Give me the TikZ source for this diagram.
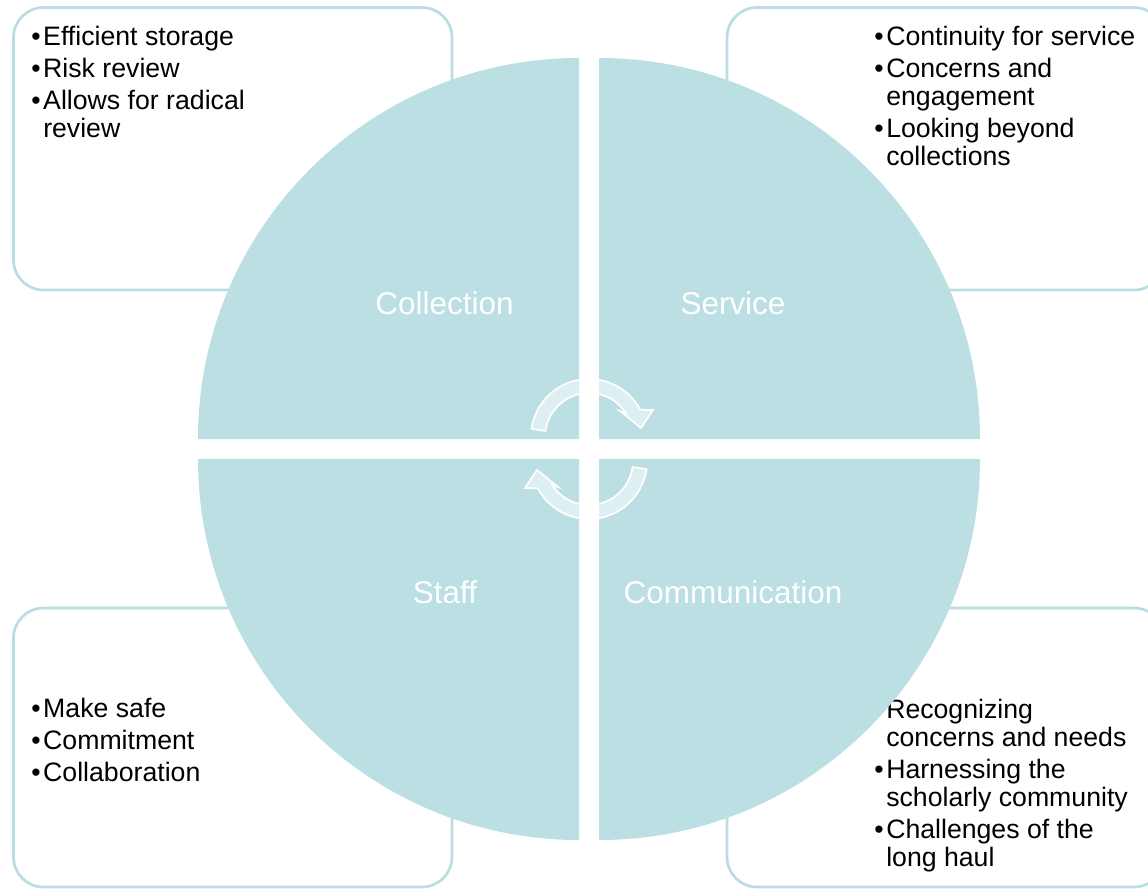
\documentclass[tikz,border=0pt]{standalone}
\usepackage{fontspec}
\setmainfont{Liberation Sans}
\usetikzlibrary{calc}
\definecolor{teal1}{RGB}{187,223,227}
\definecolor{boxline}{RGB}{185,221,226}
\newcommand\itembul{\makebox[9pt][l]{•}}
\begin{document}
\begin{tikzpicture}[x=0.75pt,y=-0.75pt,
  sidebox/.style={draw=boxline, line width=2pt, fill=white, rounded corners=22.5pt},
  quad/.style={fill=teal1},
  cyc/.style={fill=white, fill opacity=0.5, draw=white, draw opacity=1, line width=1.3pt},
  qlabel/.style={text=white, font=\fontsize{23.6pt}{26pt}\selectfont, inner sep=0pt, anchor=base},
  items/.style={inner sep=0pt, anchor=base west, font=\fontsize{20pt}{21pt}\selectfont}]
\useasboundingbox (0,0) rectangle (1148,889);

% side boxes
\path[sidebox] (13.5,7.5) rectangle (452,290);
\path[sidebox] (727,7.5) rectangle (1164,290);
\path[sidebox] (13.5,608) rectangle (452,887);
\path[sidebox] (727,608) rectangle (1164,887);

% box texts
\node[items] (tl) at (31,45) {\begin{tabular}[t]{@{}l@{}l@{}}
\itembul & Efficient storage\\[3pt]
\itembul & Risk review\\[3pt]
\itembul & Allows for radical\\
 & review
\end{tabular}};
\node[items] (tr) at (874,45) {\begin{tabular}[t]{@{}l@{}l@{}}
\itembul & Continuity for service\\[3pt]
\itembul & Concerns and\\
 & engagement\\[3pt]
\itembul & Looking beyond\\
 & collections
\end{tabular}};
\node[items] (br) at (874,718) {\begin{tabular}[t]{@{}l@{}l@{}}
\itembul & Recognizing\\
 & concerns and needs\\[3pt]
\itembul & Harnessing the\\
 & scholarly community\\[3pt]
\itembul & Challenges of the\\
 & long haul
\end{tabular}};
\node[items] (bl) at (31,717) {\begin{tabular}[t]{@{}l@{}l@{}}
\itembul & Make safe\\[3pt]
\itembul & Commitment\\[3pt]
\itembul & Collaboration
\end{tabular}};

% quadrants
\fill[quad] (579,439) -- (198,439) arc[start angle=180, end angle=270, radius=381] -- cycle;
\fill[quad] (599,439) -- (599,58) arc[start angle=270, end angle=360, radius=381] -- cycle;
\fill[quad] (579,459) -- (198,459) arc[start angle=180, end angle=90, radius=381] -- cycle;
\fill[quad] (599,459) -- (980,459) arc[start angle=0, end angle=90, radius=381] -- cycle;

% cycle arrows
\begin{scope}[shift={(589,437)}]
\path[cyc] (-172:58) arc[start angle=-172, end angle=-28, radius=58] -- (64,-27) -- (52,-9) -- (31,-26) -- (-33:44) arc[start angle=-33, end angle=-172, radius=44] -- cycle;
\end{scope}
\begin{scope}[shift={(589,461)}, rotate=180]
\path[cyc] (-172:58) arc[start angle=-172, end angle=-28, radius=58] -- (64,-27) -- (52,-9) -- (31,-26) -- (-33:44) arc[start angle=-33, end angle=-172, radius=44] -- cycle;
\end{scope}

% labels
\node[qlabel] (lcoll) at (444.5,314) {Collection};
\node[qlabel] (lserv) at (733,314) {Service};
\node[qlabel] (lstaff) at (445,603) {Staff};
\node[qlabel] (lcomm) at (733,603) {Communication};
\end{tikzpicture}
\end{document}
